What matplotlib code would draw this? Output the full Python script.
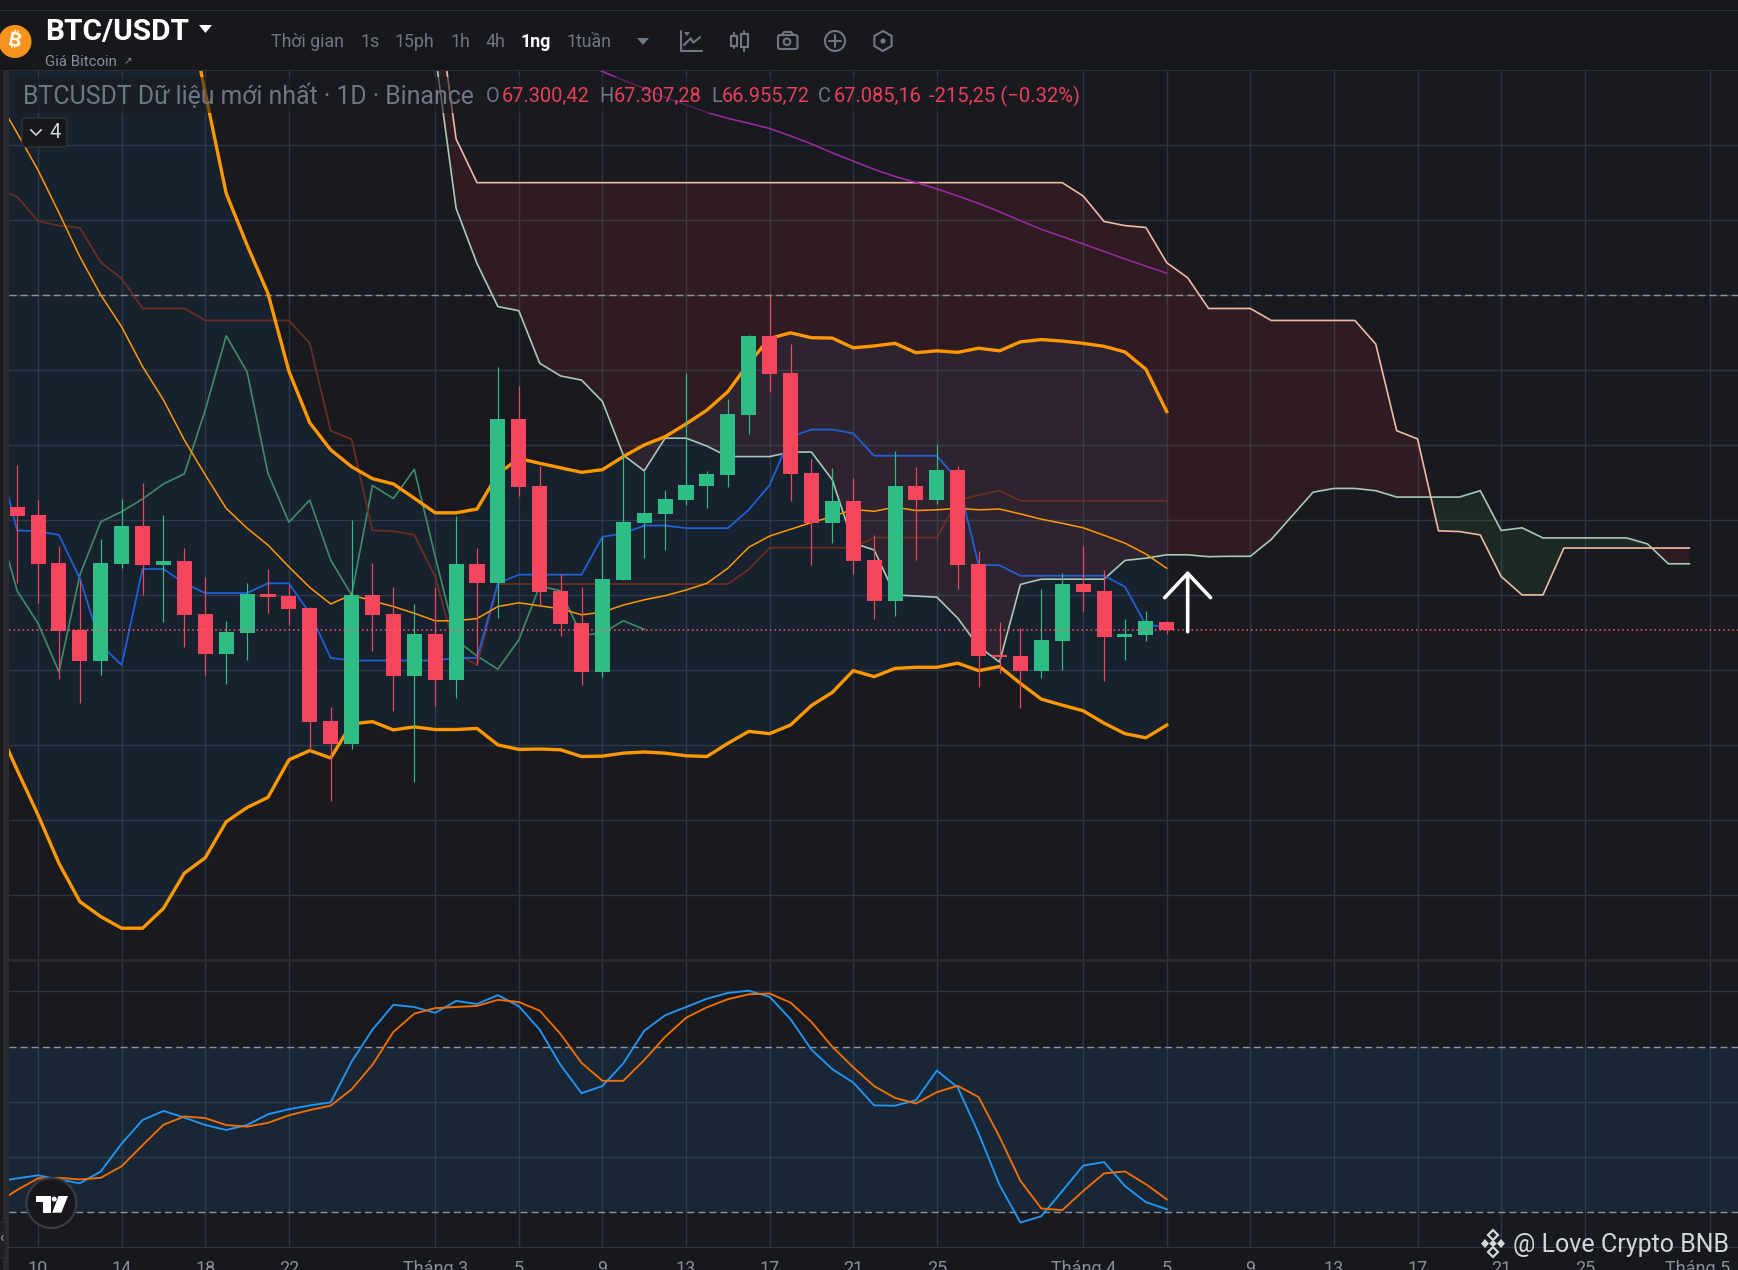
import numpy as np
import matplotlib.pyplot as plt
from matplotlib.patches import Rectangle, Circle, FancyBboxPatch, Polygon
from matplotlib.transforms import ScaledTranslation

plt.rcParams['font.family'] = ['Roboto', 'DejaVu Sans']

# daily candles, bar 0 is the first one on screen
opens = [70360, 70140, 68860, 67080, 66250, 68840, 69850, 68810, 68920, 67500,
         66440, 67000, 68040, 67980, 67660, 64650, 64040, 68010, 67500, 65850,
         66970, 65740, 68840, 68330, 72700, 70920, 68120, 67260, 65960, 68410,
         69930, 70170, 70540, 70920, 71210, 72810, 74920, 73930, 71260, 69930,
         70520, 68940, 67850, 70920, 70540, 71340, 68840, 66410, 66380, 65980,
         66780, 68300, 68120, 66890, 66940, 67300]
highs = [71480, 70540, 69320, 68410, 69500, 70570, 71000, 70140, 69260, 68490,
         67320, 68330, 68700, 68280, 67690, 65020, 70010, 68860, 68220, 67770,
         68220, 70120, 69260, 74090, 73580, 71450, 68570, 68220, 69560, 71740,
         71320, 70810, 73930, 71320, 73240, 74940, 76010, 74700, 71640, 71400,
         71130, 69610, 71850, 71420, 72040, 71450, 69180, 67290, 67130, 68170,
         68600, 69320, 68680, 67370, 67580, 67307]
lows = [68340, 67800, 65770, 65130, 65880, 68740, 68010, 67290, 66620, 65880,
        65640, 66280, 67530, 67210, 63880, 62520, 63900, 66520, 64920, 63020,
        65050, 65260, 66140, 67400, 70650, 67740, 66920, 65610, 65820, 68410,
        69000, 69210, 70410, 70330, 70890, 72300, 73420, 70520, 68810, 69400,
        68570, 67370, 67450, 68940, 70440, 68170, 65560, 65930, 65000, 65800,
        66010, 67580, 65720, 66280, 66780, 66955]
closes = [70110, 68840, 67050, 66250, 68860, 69850, 68810, 68920, 67480, 66440,
          67020, 68040, 67960, 67640, 64620, 64040, 68010, 67480, 65850, 66970,
          65740, 68840, 68330, 72700, 70890, 68090, 67240, 65960, 68440, 69960,
          70200, 70570, 70940, 71240, 72840, 74920, 73900, 71240, 69930, 70520,
          68920, 67850, 70920, 70540, 71340, 68810, 66380, 66360, 65980, 66810,
          68300, 68090, 66890, 66970, 67320, 67085]

# indicator lines start one bar before the first candle (bar -1 .. 55)
bb_upper = [92500, 92000, 91500, 91000, 90500, 90000, 89000, 88000, 86000, 84140,
            81400, 78720, 77340, 76050, 73980, 72600, 71880, 71430, 71110, 70970,
            70590, 70200, 70200, 70300, 71240, 71650, 71520, 71400, 71280, 71350,
            71700, 72010, 72230, 72570, 72940, 73430, 74190, 74850, 75000, 74870,
            74860, 74600, 74650, 74720, 74470, 74520, 74480, 74590, 74520, 74760,
            74820, 74780, 74720, 74640, 74490, 74030, 72900]
bb_lower = [64590, 63340, 62140, 60850, 59830, 59430, 59120, 59120, 59650, 60590,
            61000, 61960, 62340, 62610, 63610, 63860, 63660, 64570, 64630, 64410,
            64490, 64420, 64420, 64450, 64010, 63890, 63900, 63880, 63700, 63710,
            63790, 63820, 63790, 63720, 63700, 64050, 64370, 64310, 64540, 65060,
            65410, 65990, 65830, 66050, 66080, 66080, 66190, 65990, 66100, 65650,
            65230, 65070, 64920, 64590, 64310, 64200, 64540]
bb_basis = [81290, 80330, 79340, 78200, 77030, 76010, 75160, 74100, 73210, 72140,
            71210, 70320, 69790, 69340, 68760, 68210, 67770, 68010, 67850, 67700,
            67520, 67320, 67320, 67380, 67700, 67800, 67720, 67640, 67480, 67550,
            67740, 67880, 67990, 68140, 68320, 68720, 69280, 69580, 69760, 69940,
            70100, 70290, 70240, 70350, 70260, 70280, 70320, 70280, 70300, 70170,
            70030, 69920, 69800, 69600, 69390, 69100, 68720]
tenkan = [71880, 69730, 69710, 69610, 68450, 66680, 66140, 68700, 68700, 68320,
          68060, 68060, 68060, 68320, 68320, 67520, 66330, 66260, 66260, 66260,
          66260, 66260, 66330, 66330, 68320, 68550, 68550, 68550, 68550, 69560,
          69650, 69860, 69860, 69790, 69790, 69790, 70280, 70940, 72230, 72420,
          72420, 72320, 71720, 71720, 71720, 71720, 71080, 68810, 68800, 68520,
          68520, 68520, 68520, 68520, 68230, 67210, 67160]
kijun = [78850, 78630, 77980, 77860, 77800, 76880, 76450, 75650, 75650, 75650,
         75330, 75330, 75330, 75330, 75330, 74720, 72390, 72160, 69730, 69710,
         69610, 68500, 66450, 66140, 68300, 68300, 68300, 68300, 68300, 68300,
         68300, 68300, 68300, 68300, 68300, 68300, 68690, 69270, 69270, 69270,
         69270, 69270, 69540, 69540, 69540, 69540, 70540, 70670, 70790, 70520,
         70520, 70520, 70520, 70520, 70520, 70520, 70520]

# lagging line, bar -1 .. 30
chikou = [70100, 68120, 67250, 65960, 68540, 69960, 70230, 70570, 70970, 71240,
          72940, 74920, 73960, 71250, 69950, 70540, 68940, 68010, 70930, 70580,
          71360, 69030, 66810, 66380, 66030, 66810, 68250, 68120, 66930, 66990,
          67320, 67090]

# slow moving average, bar 27 .. 55
slow_ma = [82190, 81970, 81740, 81520, 81280, 81080, 80880, 80720, 80590, 80450,
           80250, 80040, 79800, 79580, 79360, 79170, 79010, 78840, 78650, 78450,
           78230, 77990, 77760, 77570, 77370, 77170, 76970, 76780, 76590]

# cloud edges, bar 20 .. 80
span_b = [84260, 80170, 79005, 79005, 79005, 79005, 79005, 79005, 79005, 79005,
          79005, 79005, 79005, 79005, 79005, 79005, 79005, 79005, 79005, 79005,
          79005, 79005, 79005, 79005, 79005, 79005, 79005, 79005, 79005, 79005,
          79005, 78650, 77970, 77860, 77810, 76870, 76470, 75650, 75650, 75650,
          75330, 75330, 75330, 75330, 75330, 74700, 72390, 72170, 69720, 69700,
          69610, 68500, 68010, 68010, 69260, 69260, 69260, 69260, 69260, 69260,
          69260]
span_a = [82450, 78320, 76850, 75700, 75590, 74190, 73850, 73740, 73170, 71740,
          71320, 72190, 72190, 71980, 71700, 71700, 71700, 71820, 71820, 71080,
          69390, 69210, 68010, 67980, 67950, 67390, 66630, 66220, 68290, 68430,
          68430, 68430, 68430, 68930, 68990, 69080, 69080, 69030, 69040, 69040,
          69490, 70120, 70750, 70850, 70850, 70790, 70620, 70620, 70620, 70620,
          70790, 69730, 69800, 69530, 69530, 69530, 69530, 69530, 69370, 68840,
          68840]

# stochastic RSI, bar -1 .. 55
stoch_k = [31.1, 32.3, 33.4, 31.9, 30.5, 34.8, 44.9, 53.4, 56.7, 54.3, 51.6, 49.8,
           51.6, 55.5, 57.3, 58.7, 59.8, 74.5, 86.1, 95.1, 94.3, 92.2, 96.5, 95.4,
           98.6, 94.6, 86.1, 73.3, 63.1, 65.7, 73.9, 85.7, 91.3, 94.3, 97.3, 99.4,
           100.2, 98.0, 89.9, 78.9, 71.8, 67.0, 58.7, 58.6, 60.6, 71.3, 65.2, 48.6,
           29.9, 16.3, 18.6, 27.7, 36.9, 38.2, 29.5, 23.7, 21.1]
stoch_d = [23.3, 28.1, 32.3, 32.5, 31.9, 32.5, 36.7, 44.3, 51.7, 54.7, 54.1, 51.6,
           51.0, 52.4, 55.1, 57.0, 58.6, 64.5, 73.4, 85.3, 91.9, 93.9, 94.3, 94.7,
           96.9, 96.1, 93.0, 84.5, 74.1, 67.6, 67.6, 75.1, 83.5, 90.4, 94.2, 97.1,
           98.9, 99.2, 95.9, 88.9, 79.9, 72.5, 65.7, 61.4, 59.4, 63.5, 65.8, 61.7,
           47.3, 31.4, 21.4, 20.8, 27.7, 34.1, 34.8, 30.2, 24.7]

tick_days = [1, 5, 9, 13, 20, 24, 28, 32, 36, 40, 44, 51, 55, 59, 63, 67, 71, 75, 81]
tick_labels = ['10', '14', '18', '22', 'Tháng 3', '5', '9', '13', '17', '21', '25',
               'Tháng 4', '5', '9', '13', '17', '21', '25', 'Tháng 5']
price_grid = [60000, 62000, 64000, 66000, 68000, 70000, 72000, 74000, 76000, 78000, 80000]

BG = '#181a20'
GRID = '#2e3542'
UP = '#2ebd85'
DOWN = '#f6465d'
GREY = '#6f7785'
W, H = 1738, 1270


def pane(top, bottom):
    ax = fig.add_axes([8.8 / W, 1 - bottom / H, (W - 8.8) / W, (bottom - top) / H])
    ax.set_facecolor(BG)
    for s in ax.spines.values():
        s.set_visible(False)
    ax.set_xlim(-0.4, 82.33)
    ax.set_xticks(tick_days)
    ax.grid(True, color=GRID, lw=1.0)
    ax.set_axisbelow(True)
    ax.tick_params(length=0, labelleft=False, labelbottom=False)
    return ax


fig = plt.figure(figsize=(W / 100, H / 100), dpi=100, facecolor='#17181c')
ax = pane(70, 960)
ax.set_ylim(58273, 82010)
ax.set_yticks(price_grid)

days = np.arange(-1, 56)
cloud_days = np.arange(20, 81)
candle_days = np.arange(56)
opens, highs, lows, closes = map(np.array, (opens, highs, lows, closes))
span_a_arr, span_b_arr = np.array(span_a), np.array(span_b)

ax.fill_between(cloud_days, span_a_arr, span_b_arr, where=span_b_arr >= span_a_arr,
                interpolate=True, color='#f23645', alpha=0.105, lw=0)
ax.fill_between(cloud_days, span_a_arr, span_b_arr, where=span_b_arr <= span_a_arr,
                interpolate=True, color='#4caf50', alpha=0.1, lw=0)
ax.fill_between(days, bb_lower, bb_upper, color='#2196f3', alpha=0.065, lw=0)

ax.axhline(76000, color='#8f949c', lw=1.0, dashes=(5, 3), zorder=1.5)

ax.plot(cloud_days, span_a, color='#a6c9b8', lw=1.2)
ax.plot(cloud_days, span_b, color='#f0b9a2', lw=1.2)
ax.plot(np.arange(-1, 31), chikou, color='#3f8c69', lw=1.2)
ax.plot(days, kijun, color='#6b2f22', lw=1.3)
ax.plot(days, tenkan, color='#1f5fd8', lw=1.3)
ax.plot(np.arange(27, 56), slow_ma, color='#a12aa8', lw=1.1)
ax.plot(days, bb_basis, color='#ff9800', lw=1.1)
ax.plot(days, bb_upper, color='#ff9800', lw=2.4)
ax.plot(days, bb_lower, color='#ff9800', lw=2.4)

colors = [UP if c >= o else DOWN for o, c in zip(opens, closes)]
ax.vlines(candle_days, lows, highs, colors=colors, lw=0.85, zorder=4)
ax.bar(candle_days, np.abs(closes - opens), bottom=np.minimum(opens, closes),
       width=0.72, color=colors, lw=0, zorder=5)

ax.axhline(closes[-1], color='#ff5a72', lw=1.1, dashes=(1, 2), zorder=6)
ax.annotate('', xy=(56, 68656), xytext=(56, 67029), zorder=7,
            arrowprops=dict(arrowstyle='->,head_length=1.75,head_width=1.65', color='white',
                            lw=2.6, shrinkA=0, shrinkB=0, mutation_scale=10,
                            capstyle='round', joinstyle='round'))

rsi = pane(961.7, 1247.3)
rsi.set_ylim(7.35, 110.7)
rsi.set_yticks([40, 60, 100])
rsi.axhspan(20, 80, color='#2196f3', alpha=0.1, lw=0)
rsi.axhline(80, color='#8f949c', lw=1.0, dashes=(5, 3))
rsi.axhline(20, color='#8f949c', lw=1.0, dashes=(5, 3))
rsi.plot(days, stoch_k, color='#2196f3', lw=1.35)
rsi.plot(days, stoch_d, color='#f06f00', lw=1.35)
rsi.spines['bottom'].set_visible(True)
rsi.spines['bottom'].set_color(GRID)
rsi.set_xticklabels(tick_labels)
rsi.tick_params(labelbottom=True, labelcolor='#848e9c', labelsize=13, pad=9.5)

# the last date label is pushed left so it stays near the edge
last_label = rsi.get_xticklabels()[-1]
last_label.set_transform(last_label.get_transform() + ScaledTranslation(-0.13, 0, fig.dpi_scale_trans))

# everything that is chrome, not chart, goes on a pixel overlay
ov = fig.add_axes([0, 0, 1, 1], zorder=10)
ov.set_xlim(0, W)
ov.set_ylim(H, 0)
ov.axis('off')
ov.patch.set_alpha(0)

ov.add_patch(Rectangle((0, 10), W, 1.2, color='#2b2f36', lw=0))
ov.add_patch(Rectangle((0, 69.5), W, 1.2, color='#2b2f36', lw=0))
ov.add_patch(Rectangle((3, 70), 6, H - 70, color='#2a2b2c', lw=0))
ov.add_patch(Rectangle((9, 959.3), W, 2.4, color='#2a2b2d', lw=0))

# coin logo and title
ov.add_patch(Circle((15, 41.5), 16.5, color='#f7931a', lw=0))
ov.text(15, 41.5, '₿', color='white', fontsize=14, fontweight='bold', rotation=-12,
        ha='center', va='center',
        family=['Inter', 'Noto Sans', 'Open Sans', 'Lato', 'Liberation Sans', 'Noto Sans CJK SC', 'Roboto'])
ov.text(45, 32, 'BTC/USDT', color='white', fontsize=21.5, fontweight='bold', va='center')
ov.add_patch(Polygon([(199, 25), (212, 25), (205.5, 33)], color='white', lw=0))
ov.text(45, 61.5, 'Giá Bitcoin', color='#848e9c', fontsize=10.8, va='center')
ov.text(124, 61, '↗', color='#848e9c', fontsize=7.5, va='center', ha='left')

toolbar = [('Thời gian', 271), ('1s', 361), ('15ph', 394), ('1h', 451), ('4h', 485),
           ('1ng', 521), ('1tuần', 567)]
for label, x in toolbar:
    active = label == '1ng'
    ov.text(x, 42, label, color='white' if active else GREY, fontsize=12.8,
            fontweight='bold' if active else 'normal', va='center')
ov.add_patch(Polygon([(637, 38), (649, 38), (643, 45)], color=GREY, lw=0))


def icon_line(xs, ys, lw=1.5):
    ov.plot(xs, ys, color=GREY, lw=lw, solid_capstyle='round')


# toolbar icons
icon_line([680.7, 680.7, 701.7], [30.7, 51.3, 51.3])
icon_line([684, 690.7, 693.3, 700], [45, 38.3, 42.7, 37.3])
ov.add_patch(Polygon([(684, 32), (690, 32), (687, 36)], color=GREY, lw=0))
for cx, y0, y1, w0, w1 in [(734, 33.3, 48.3, 36, 46), (744.3, 31, 50.7, 34, 47.3)]:
    icon_line([cx, cx], [y0, y1])
    ov.add_patch(Rectangle((cx - 3.3, w0), 6.6, w1 - w0, fc='#17181c', ec=GREY, lw=1.5, zorder=3))
ov.add_patch(FancyBboxPatch((778, 35), 19.5, 14, boxstyle='round,pad=0,rounding_size=2',
                            fc='none', ec=GREY, lw=1.5))
icon_line([782, 784, 791, 793.5], [35, 32, 32, 35])
ov.add_patch(Circle((787, 41.7), 3.3, fc='none', ec=GREY, lw=1.5))
ov.add_patch(Circle((835, 41), 10, fc='none', ec=GREY, lw=1.5))
icon_line([835, 835], [35, 47])
icon_line([829, 841], [41, 41])
angles = np.radians(np.arange(30, 390, 60))
ov.add_patch(Polygon(np.c_[883 + 10 * np.cos(angles), 41 + 10 * np.sin(angles)],
                     fc='none', ec=GREY, lw=1.5))
ov.add_patch(Circle((883, 41), 2.6, color=GREY, lw=0))

# legend strip
ov.add_patch(Rectangle((15, 77), 1067, 36, color=BG, alpha=0.55, lw=0))
ov.text(23, 96, 'BTCUSDT Dữ liệu mới nhất · 1D · Binance', color=GREY, fontsize=17.9, va='center')
legend_red = '#e9405a'
for key, kx, val, vx in [('O', 486, '67.300,42', 502), ('H', 599, '67.307,28', 614),
                         ('L', 711, '66.955,72', 722), ('C', 818, '67.085,16', 834)]:
    ov.text(kx, 96, key, color=GREY, fontsize=14.4, va='center')
    ov.text(vx, 96, val, color=legend_red, fontsize=14.4, va='center')
ov.text(929, 96, '-215,25 (−0.32%)', color=legend_red, fontsize=14.6, va='center')

ov.add_patch(FancyBboxPatch((22, 118), 45, 29, boxstyle='round,pad=0,rounding_size=4',
                            fc='#17181c', ec='#2f3238', lw=1))
ov.plot([31, 36, 41], [130, 135, 130], color='#d1d4dc', lw=1.2)
ov.text(50, 132.5, '4', color='#d1d4dc', fontsize=14.5, va='center')

# tradingview badge
ov.add_patch(Circle((51.4, 1203), 25, fc='#17181c', ec='#3c3c42', lw=1.6))
ov.add_patch(Polygon([(35.6, 1196), (50.6, 1196), (50.6, 1212.7), (42.7, 1212.7),
                      (42.7, 1201.7), (35.6, 1201.7)], color='white', lw=0))
ov.add_patch(Circle((54.2, 1199), 2.5, color='white', lw=0))
ov.add_patch(Polygon([(58.5, 1196), (68, 1196), (61.3, 1212.7), (52.2, 1212.7)], color='white', lw=0))

# small handle in the corner
ov.add_patch(FancyBboxPatch((-6, 1222), 12, 36, boxstyle='round,pad=0,rounding_size=4',
                            fc='#1f2024', ec='#2c2d30', lw=1))
ov.text(1, 1238, '‹', color='#a0a4aa', fontsize=11, ha='center', va='center')

# watermark
wm = '#d3d6da'
ov.add_patch(Polygon([(1493, 1230), (1498, 1235), (1493, 1240), (1488, 1235)], fc='none', ec=wm, lw=1.6))
ov.add_patch(Polygon([(1493, 1247), (1498, 1252), (1493, 1257), (1488, 1252)], fc='none', ec=wm, lw=1.6))
ov.add_patch(Polygon([(1485, 1239), (1489, 1243.5), (1485, 1248), (1481, 1243.5)], color=wm, lw=0))
ov.add_patch(Polygon([(1501, 1239), (1505, 1243.5), (1501, 1248), (1497, 1243.5)], color=wm, lw=0))
ov.add_patch(Polygon([(1493, 1240), (1497, 1243.5), (1493, 1247), (1489, 1243.5)], color=wm, lw=0))
ov.text(1513, 1245, '@ Love Crypto BNB', color=wm, fontsize=18, va='center')

fig.savefig('out.png', dpi=100, facecolor=fig.get_facecolor())
